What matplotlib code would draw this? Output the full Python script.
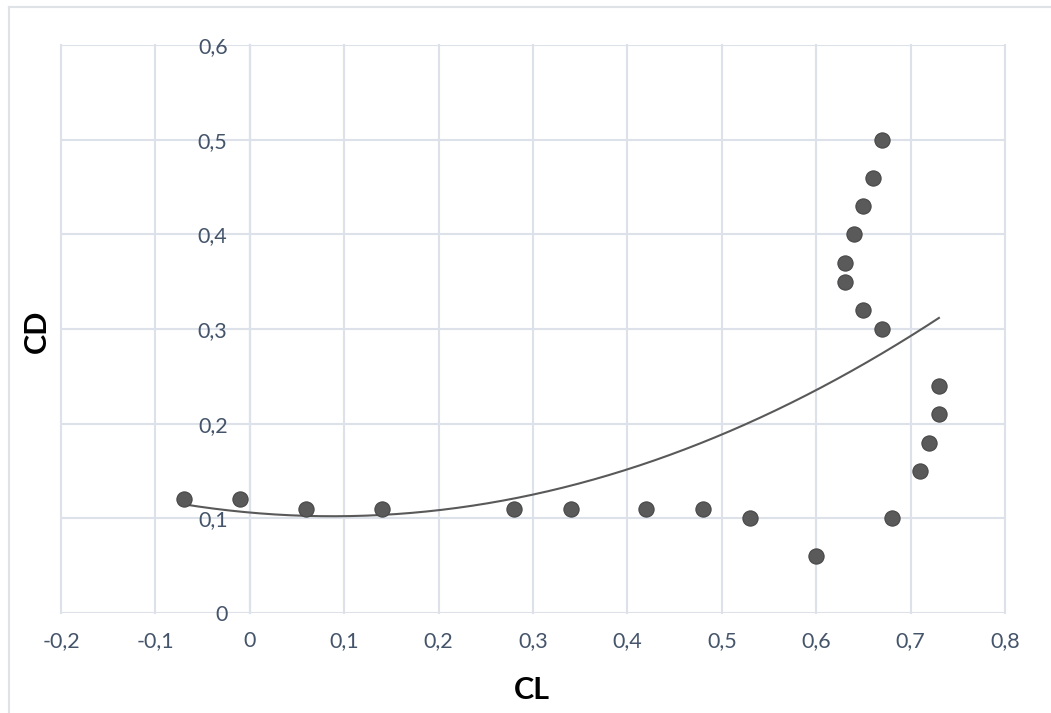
import numpy as np
import matplotlib
matplotlib.use("Agg")
import matplotlib.pyplot as plt
from matplotlib.lines import Line2D
from matplotlib.ticker import FuncFormatter, MultipleLocator

# Data (CL, CD)
cl = [-0.07, -0.01, 0.06, 0.14, 0.28, 0.34, 0.42, 0.48, 0.53, 0.60, 0.68,
      0.71, 0.72, 0.73, 0.73, 0.67, 0.65, 0.63, 0.63, 0.64, 0.65, 0.66, 0.67]
cd = [0.12, 0.12, 0.11, 0.11, 0.11, 0.11, 0.11, 0.11, 0.10, 0.06, 0.10,
      0.15, 0.18, 0.21, 0.24, 0.30, 0.32, 0.35, 0.37, 0.40, 0.43, 0.46, 0.50]
x_title = "CL"
y_title = "CD"

plt.rcParams['font.family'] = ['Lato', 'DejaVu Sans']

W, H = 1051, 713
fig = plt.figure(figsize=(W / 100, H / 100), dpi=100)
ax = fig.add_axes([61 / W, 1 - 613 / H, (1005 - 61) / W, (613 - 45) / H])

ax.set_xlim(-0.2, 0.8)
ax.set_ylim(0, 0.6)
ax.xaxis.set_major_locator(MultipleLocator(0.1))
ax.yaxis.set_major_locator(MultipleLocator(0.1))

fmt = FuncFormatter(lambda v, p: ("%g" % round(v, 2)).replace('.', ','))
ax.xaxis.set_major_formatter(fmt)
ax.yaxis.set_major_formatter(fmt)

grid_c = '#dde2ea'
ax.grid(True, color=grid_c, lw=1.5, zorder=0)
for gl in ax.get_xgridlines() + ax.get_ygridlines():
    gl.set_clip_on(False)

for s in ['top', 'right', 'bottom']:
    ax.spines[s].set_visible(False)
ax.spines['left'].set_position(('data', 0))
ax.spines['left'].set_color('#aebacb')
ax.spines['left'].set_linewidth(1.5)
ax.spines['left'].set_zorder(1)

tick_c = '#44546a'
ax.tick_params(axis='both', length=0, labelsize=15.5, labelcolor=tick_c)
ax.tick_params(axis='y', pad=16)
ax.tick_params(axis='x', pad=13)

# Trendline: polynomial order 2 fit
coef = np.polyfit(cl, cd, 2)
xs = np.linspace(min(cl), max(cl), 200)
ax.plot(xs, np.polyval(coef, xs), color='#595959', lw=1.5, zorder=2)

ax.scatter(cl, cd, s=120, color='#5a5a5a', edgecolors='#474747', linewidths=0.8,
           zorder=3, clip_on=False)

fig.text(532 / W, 1 - 690 / H, x_title, ha='center', va='center',
         fontsize=22, fontweight='bold', color='black')
fig.text(37 / W, 1 - 331 / H, y_title, ha='center', va='center', rotation=90,
         fontsize=22, fontweight='bold', color='black')

# outer frame (left and top edges visible)
fc = '#dfe2e7'
fig.add_artist(Line2D([9 / W, 9 / W], [0, 1 - 7 / H], color=fc, lw=1.5,
                      transform=fig.transFigure))
fig.add_artist(Line2D([9 / W, 1], [1 - 7 / H, 1 - 7 / H], color=fc, lw=1.5,
                      transform=fig.transFigure))

fig.savefig('out.png', dpi=100)
